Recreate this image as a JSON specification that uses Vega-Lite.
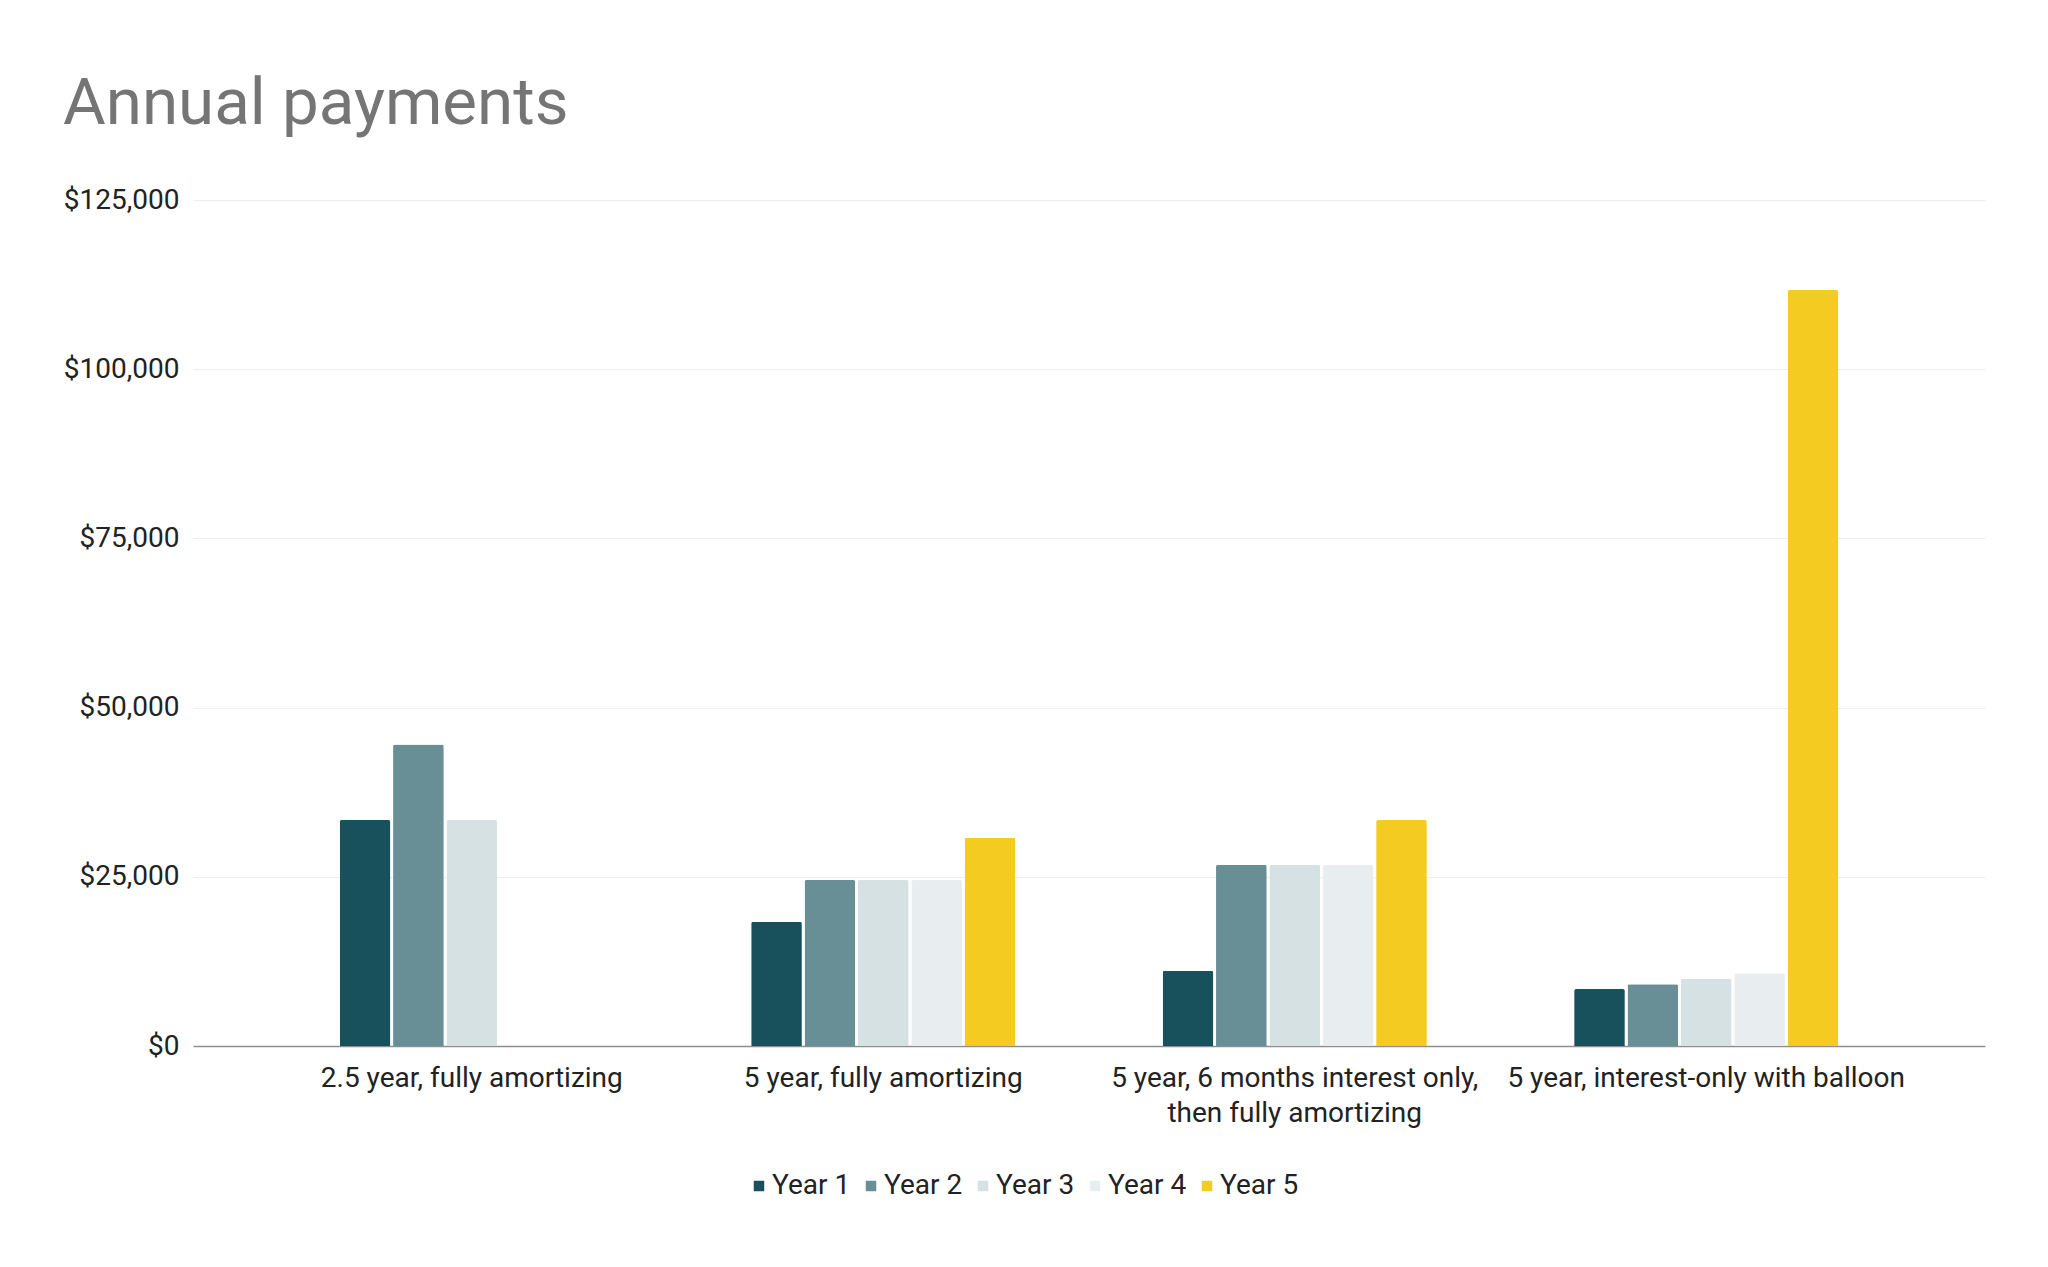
{
  "$schema": "https://vega.github.io/schema/vega-lite/v6.json",
  "width": 1792,
  "height": 846,
  "autosize": {"type": "none"},
  "padding": {"left": 193, "top": 200, "right": 63, "bottom": 221},
  "background": "#ffffff",
  "title": {
    "text": "Annual payments",
    "anchor": "start",
    "frame": "group",
    "dx": -130,
    "dy": 61,
    "offset": 58,
    "baseline": "alphabetic",
    "font": "Roboto",
    "fontSize": 65.5,
    "fontWeight": "normal",
    "color": "#757575"
  },
  "data": {
    "values": [
      {"loan": "2.5 year, fully amortizing", "year": "Year 1", "payment": 33380},
      {"loan": "2.5 year, fully amortizing", "year": "Year 2", "payment": 44560},
      {"loan": "2.5 year, fully amortizing", "year": "Year 3", "payment": 33380},
      {"loan": "5 year, fully amortizing", "year": "Year 1", "payment": 18360},
      {"loan": "5 year, fully amortizing", "year": "Year 2", "payment": 24520},
      {"loan": "5 year, fully amortizing", "year": "Year 3", "payment": 24520},
      {"loan": "5 year, fully amortizing", "year": "Year 4", "payment": 24520},
      {"loan": "5 year, fully amortizing", "year": "Year 5", "payment": 30770},
      {"loan": "5 year, 6 months interest only, then fully amortizing", "year": "Year 1", "payment": 11120},
      {"loan": "5 year, 6 months interest only, then fully amortizing", "year": "Year 2", "payment": 26780},
      {"loan": "5 year, 6 months interest only, then fully amortizing", "year": "Year 3", "payment": 26780},
      {"loan": "5 year, 6 months interest only, then fully amortizing", "year": "Year 4", "payment": 26780},
      {"loan": "5 year, 6 months interest only, then fully amortizing", "year": "Year 5", "payment": 33380},
      {"loan": "5 year, interest-only with balloon", "year": "Year 1", "payment": 8420},
      {"loan": "5 year, interest-only with balloon", "year": "Year 2", "payment": 9110},
      {"loan": "5 year, interest-only with balloon", "year": "Year 3", "payment": 9940},
      {"loan": "5 year, interest-only with balloon", "year": "Year 4", "payment": 10740},
      {"loan": "5 year, interest-only with balloon", "year": "Year 5", "payment": 111700}
    ]
  },
  "mark": {"type": "bar", "cornerRadiusTopLeft": 2, "cornerRadiusTopRight": 2},
  "encoding": {
    "x": {
      "field": "loan",
      "type": "nominal",
      "sort": ["2.5 year, fully amortizing", "5 year, fully amortizing", "5 year, 6 months interest only, then fully amortizing", "5 year, interest-only with balloon"],
      "scale": {"paddingInner": 0.358, "paddingOuter": 0.3565},
      "axis": {
        "title": null,
        "labelAngle": 0,
        "labelFont": "Roboto",
        "labelFontSize": 28,
        "labelColor": "#222222",
        "labelPadding": 18,
        "labelLineHeight": 35,
        "labelLimit": 0,
        "labelExpr": "datum.value == '5 year, 6 months interest only, then fully amortizing' ? ['5 year, 6 months interest only,', 'then fully amortizing'] : datum.value",
        "ticks": false,
        "domain": true,
        "domainColor": "#8f8f8f",
        "domainWidth": 1.5,
        "grid": false
      }
    },
    "xOffset": {
      "field": "year",
      "type": "nominal",
      "scale": {"domain": ["Year 1", "Year 2", "Year 3", "Year 4", "Year 5"], "paddingInner": 0.05}
    },
    "y": {
      "field": "payment",
      "type": "quantitative",
      "scale": {"domain": [0, 125000], "nice": false},
      "axis": {
        "title": null,
        "values": [0, 25000, 50000, 75000, 100000, 125000],
        "format": "$,.0f",
        "labelFont": "Roboto",
        "labelFontSize": 28,
        "labelColor": "#222222",
        "labelPadding": 14,
        "ticks": false,
        "domain": false,
        "grid": true,
        "gridColor": "#eeeeee",
        "gridWidth": 1
      }
    },
    "color": {
      "field": "year",
      "type": "nominal",
      "scale": {
        "domain": ["Year 1", "Year 2", "Year 3", "Year 4", "Year 5"],
        "range": ["#18515b", "#678f95", "#d5e1e3", "#e8eef0", "#f4cb21"]
      },
      "legend": {
        "title": null,
        "orient": "none",
        "legendX": 552,
        "legendY": 972,
        "direction": "horizontal",
        "symbolType": "square",
        "symbolSize": 110,
        "symbolStrokeWidth": 0,
        "labelFont": "Roboto",
        "labelFontSize": 28,
        "labelColor": "#222222",
        "labelOffset": -1,
        "columnPadding": 6
      }
    }
  },
  "config": {
    "view": {"stroke": null},
    "font": "Roboto"
  }
}
